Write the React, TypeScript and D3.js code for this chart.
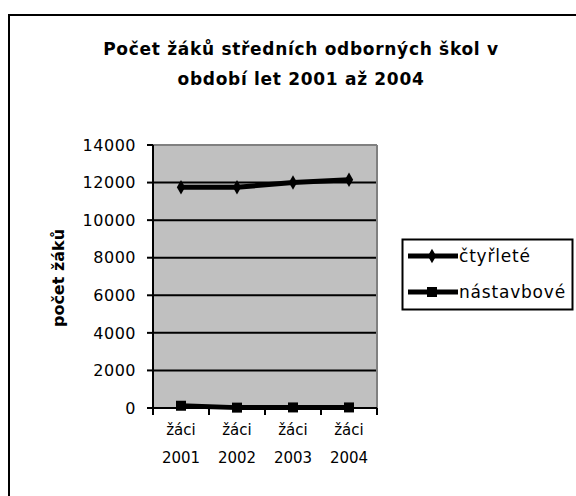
import React from 'react'
import * as d3 from 'd3'

const categories = ['žáci 2001', 'žáci 2002', 'žáci 2003', 'žáci 2004']
const yTicks = [0, 2000, 4000, 6000, 8000, 10000, 12000, 14000]
const ctyrlete = [11750, 11750, 12000, 12150]
const nastavbove = [120, 20, 30, 30]
const seriesNames = ['čtyřleté', 'nástavbové']

const App = () => {
  const plot = {left: 153, right: 377, top: 145, bottom: 408}

  const x = d3.scaleBand()
    .domain(categories)
    .range([plot.left, plot.right])

  const y = d3.scaleLinear()
    .domain([0, 14000])
    .range([plot.bottom, plot.top])

  const cx = (i: number) => x(categories[i])! + x.bandwidth() / 2

  const line = d3.line<number>()
    .x((d, i) => cx(i))
    .y(d => y(d))

  const font = 'DejaVu Sans, Verdana, sans-serif'
  const diamond = d3.symbol().type(d3.symbolDiamond).size(60)()!

  return (
    <svg width={576} height={496} style={{position: 'absolute', left: 0, top: 0}}>
      <rect x={9} y={15} width={600} height={500} fill="white" stroke="black" strokeWidth={2} />

      <g fontFamily={font} fontWeight="bold" fontSize={17} textAnchor="middle" letterSpacing={0.7}>
        <text x={301} y={55}>Počet žáků středních odborných škol v</text>
        <text x={301} y={85}>období let 2001 až 2004</text>
      </g>

      {/* plot area */}
      <rect x={plot.left} y={plot.top} width={plot.right - plot.left} height={plot.bottom - plot.top}
        fill="#c0c0c0" />
      {yTicks.filter(t => t > 0 && t < 14000).map(t => (
        <line key={t} x1={plot.left} x2={plot.right} y1={y(t)} y2={y(t)} stroke="black" strokeWidth={2} />
      ))}
      <line x1={plot.left} x2={plot.right} y1={plot.top} y2={plot.top} stroke="#808080" strokeWidth={2} />
      <line x1={plot.right} x2={plot.right} y1={plot.top} y2={plot.bottom} stroke="#808080" strokeWidth={2} />

      {/* y axis */}
      <line x1={plot.left} x2={plot.left} y1={plot.top} y2={plot.bottom} stroke="black" strokeWidth={2} />
      {yTicks.map(t => (
        <g key={t}>
          <line x1={plot.left - 6} x2={plot.left} y1={y(t)} y2={y(t)} stroke="black" strokeWidth={2} />
          <text x={136} y={y(t)} dy="0.36em" textAnchor="end" fontFamily={font} fontSize={16}
            letterSpacing={0.5}>{t}</text>
        </g>
      ))}
      <text transform={`translate(64,278) rotate(-90)`} textAnchor="middle"
        fontFamily={font} fontWeight="bold" fontSize={16}>počet žáků</text>

      {/* x axis */}
      <line x1={plot.left} x2={plot.right} y1={plot.bottom} y2={plot.bottom} stroke="black" strokeWidth={2} />
      {[...categories.map(c => x(c)!), plot.right].map((px, i) => (
        <line key={i} x1={px} x2={px} y1={plot.bottom} y2={plot.bottom + 7} stroke="black" strokeWidth={2} />
      ))}
      {categories.map((c, i) => {
        const [a, b] = c.split(' ')
        return (
          <g key={c} fontFamily={font} fontSize={15} textAnchor="middle">
            <text x={cx(i)} y={435}>{a}</text>
            <text x={cx(i)} y={463}>{b}</text>
          </g>
        )
      })}

      {/* series */}
      <path d={line(ctyrlete)!} fill="none" stroke="black" strokeWidth={5} />
      {ctyrlete.map((v, i) => (
        <path key={i} d={diamond} transform={`translate(${cx(i)},${y(v)})`} fill="black" />
      ))}
      <path d={line(nastavbove)!} fill="none" stroke="black" strokeWidth={5} />
      {nastavbove.map((v, i) => (
        <rect key={i} x={cx(i) - 5} y={y(v) - 5} width={10} height={10} fill="black" />
      ))}

      {/* legend */}
      <rect x={402.5} y={239.5} width={170} height={70} fill="white" stroke="black" strokeWidth={2} />
      {seriesNames.map((n, i) => {
        const ly = 256 + i * 36
        return (
          <g key={n}>
            <line x1={408} x2={458} y1={ly} y2={ly} stroke="black" strokeWidth={5} />
            {i === 0
              ? <path d={diamond} transform={`translate(432,${ly})`} fill="black" />
              : <rect x={427} y={ly - 5} width={10} height={10} fill="black" />}
            <text x={459} y={ly} dy="0.36em" fontFamily={font} fontSize={17} letterSpacing={0.8}>{n}</text>
          </g>
        )
      })}
    </svg>
  )
}

export default App
